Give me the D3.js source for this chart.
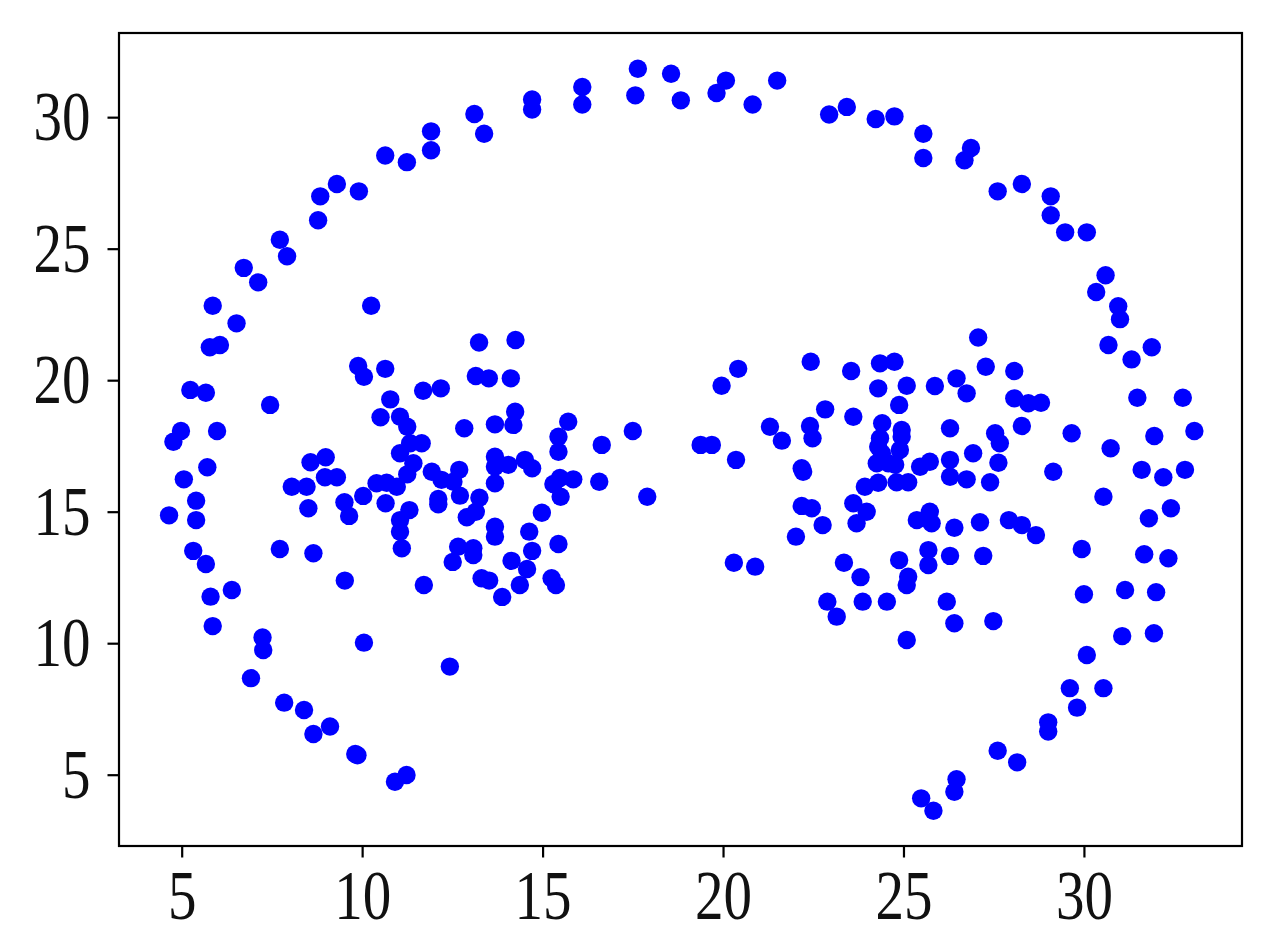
<!DOCTYPE html>
<html>
<head>
<meta charset="utf-8">
<script src="https://cdn.jsdelivr.net/npm/d3@7"></script>
<style>
  html, body { margin: 0; padding: 0; background: #fff; }
  svg { display: block; }
</style>
</head>
<body>
<svg id="chart" width="1275" height="942"></svg>
<script>
// tick labels
const xTicks = [5, 10, 15, 20, 25, 30];
const yTicks = [5, 10, 15, 20, 25, 30];

// outer ring of points, [x, y]
const ringPoints = [
  [13.11, 30.12], [13.38, 29.37], [11.91, 29.46], [11.91, 28.74], [10.64, 28.54], [11.24, 28.29],
  [9.30, 27.46], [8.84, 26.99], [9.91, 27.18], [8.78, 26.08], [7.72, 25.34], [7.92, 24.71],
  [6.72, 24.27], [7.12, 23.72], [5.86, 22.83], [6.52, 22.16], [5.78, 21.25], [6.06, 21.34],
  [5.24, 19.63], [5.67, 19.52], [4.98, 18.07], [4.77, 17.66], [5.98, 18.07], [5.06, 16.23],
  [5.71, 16.69], [5.40, 15.42], [4.65, 14.86], [5.40, 14.68], [5.32, 13.51], [5.67, 13.01],
  [5.80, 11.77], [6.39, 12.02], [5.86, 10.65], [7.24, 10.22], [7.26, 9.74], [6.92, 8.67],
  [7.84, 7.74], [8.39, 7.46], [8.65, 6.55], [9.11, 6.83], [9.81, 5.79], [9.87, 5.74],
  [10.91, 4.73], [11.23, 4.99],
  [14.71, 30.67], [14.71, 30.29], [16.10, 31.15], [16.10, 30.48], [17.64, 31.84], [17.57, 30.83],
  [18.56, 31.65], [18.83, 30.64], [20.08, 31.39], [19.82, 30.92], [20.82, 30.48], [21.50, 31.39],
  [22.94, 30.10], [23.43, 30.39], [24.23, 29.93], [24.75, 30.03], [25.55, 29.37], [25.55, 28.45],
  [26.87, 28.83], [26.69, 28.36], [27.61, 27.18], [28.28, 27.46], [29.08, 26.99], [29.08, 26.27],
  [29.48, 25.62], [30.08, 25.62], [30.60, 23.99], [30.34, 23.35], [30.95, 22.81], [31.00, 22.32],
  [30.68, 21.34], [31.88, 21.25], [31.32, 20.79], [31.48, 19.33], [32.74, 19.33], [33.06, 18.07],
  [31.95, 17.88], [30.74, 17.41], [31.60, 16.59], [32.20, 16.31], [32.80, 16.59], [29.15, 16.52],
  [29.66, 17.98], [30.54, 15.57], [31.80, 14.75], [32.41, 15.13], [29.94, 13.58], [31.67, 13.38],
  [32.34, 13.23], [30.00, 11.86], [31.14, 12.02], [32.00, 11.94], [31.06, 10.27], [31.94, 10.38],
  [30.08, 9.55], [29.61, 8.29], [30.54, 8.29], [29.81, 7.55], [29.01, 6.99], [29.01, 6.64],
  [27.61, 5.91], [28.15, 5.47], [26.47, 4.83], [26.41, 4.35], [25.49, 4.10], [25.83, 3.63]
];

// left inner cluster
const leftPoints = [
  [10.25, 22.83], [13.24, 21.43], [9.89, 20.54], [10.05, 20.13], [10.64, 20.43], [13.15, 20.16],
  [13.51, 20.07], [11.69, 19.60], [12.18, 19.69], [7.45, 19.06], [10.78, 19.27], [10.51, 18.59],
  [11.05, 18.61], [11.25, 18.23], [12.83, 18.17], [13.68, 18.32], [11.33, 17.60], [11.65, 17.60],
  [11.05, 17.22], [11.42, 16.84], [11.25, 16.42], [11.93, 16.52], [12.20, 16.21], [12.69, 16.59],
  [12.53, 16.14], [13.68, 17.09], [13.68, 16.71], [13.68, 16.08], [8.57, 16.88], [8.99, 17.07],
  [8.97, 16.31], [9.30, 16.31], [8.05, 15.95], [8.46, 15.95], [10.40, 16.08], [10.68, 16.10],
  [10.96, 15.95], [10.03, 15.60], [10.65, 15.32], [8.51, 15.13], [9.51, 15.36], [9.64, 14.84],
  [12.11, 15.48], [12.11, 15.28], [12.71, 15.61], [13.25, 15.53], [11.31, 15.06], [11.05, 14.68],
  [11.05, 14.24], [12.90, 14.79], [13.15, 15.00], [13.68, 14.43], [13.68, 14.05], [11.10, 13.61],
  [7.72, 13.58], [8.65, 13.42], [12.66, 13.67], [13.08, 13.61], [13.08, 13.35], [12.51, 13.09],
  [9.52, 12.38], [11.71, 12.21], [13.31, 12.47], [13.52, 12.38], [13.88, 11.76], [10.05, 10.02],
  [12.43, 9.11], [14.25, 21.53], [14.12, 20.07], [14.24, 18.80], [14.19, 18.30], [15.71, 18.42],
  [15.44, 17.85], [15.44, 17.28], [16.64, 17.54], [17.50, 18.07], [14.05, 16.78], [14.51, 16.97],
  [14.71, 16.65], [15.30, 16.05], [15.48, 16.28], [15.85, 16.23], [15.50, 15.57], [16.57, 16.14],
  [17.90, 15.57], [14.98, 14.96], [14.63, 14.24], [15.44, 13.77], [14.71, 13.51], [14.14, 13.13],
  [14.57, 12.82], [14.37, 12.21], [15.25, 12.47], [15.37, 12.21]
];

// points between the two clusters
const middlePoints = [
  [19.38, 17.54], [19.69, 17.54], [20.42, 20.43], [19.96, 19.79], [20.36, 16.97], [20.30, 13.06],
  [20.89, 12.91]
];

// right inner cluster
const rightPoints = [
  [22.43, 20.70], [23.55, 20.35], [21.30, 18.23], [21.63, 17.70], [22.41, 18.26], [22.48, 17.79],
  [22.83, 18.89], [23.61, 18.61], [22.18, 16.65], [22.22, 16.52], [23.93, 15.95], [23.61, 15.32],
  [23.98, 15.00], [23.70, 14.56], [22.18, 15.22], [22.46, 15.13], [22.76, 14.49], [22.02, 14.05],
  [23.35, 13.06], [27.07, 21.62], [24.35, 20.64], [24.75, 20.70], [27.28, 20.51], [28.07, 20.35],
  [24.30, 19.69], [25.09, 19.79], [25.87, 19.78], [26.47, 20.07], [26.75, 19.50], [28.07, 19.31],
  [28.46, 19.12], [28.81, 19.14], [24.88, 19.06], [24.41, 18.36], [24.35, 17.79], [24.95, 18.11],
  [24.95, 17.85], [24.90, 17.35], [26.29, 18.17], [27.54, 17.98], [27.67, 17.60], [28.28, 18.26],
  [24.30, 17.47], [24.40, 17.22], [24.26, 16.84], [24.58, 16.84], [24.77, 16.78], [26.93, 17.22],
  [27.63, 16.86], [25.46, 16.71], [25.73, 16.90], [26.29, 16.97], [26.29, 16.33], [26.75, 16.23],
  [27.40, 16.12], [24.30, 16.10], [24.81, 16.12], [25.13, 16.12], [25.37, 14.68], [25.73, 15.00],
  [25.78, 14.56], [26.41, 14.39], [27.12, 14.60], [27.92, 14.68], [28.28, 14.49], [28.67, 14.11],
  [24.88, 13.16], [25.69, 13.54], [25.69, 12.97], [26.29, 13.32], [27.21, 13.32], [23.81, 12.51],
  [25.13, 12.53], [25.09, 12.21], [22.89, 11.58], [23.15, 11.01], [23.87, 11.58], [24.54, 11.58],
  [26.20, 11.58], [26.41, 10.76], [27.49, 10.84], [25.09, 10.12]
];

const allPoints = ringPoints.concat(leftPoints, middlePoints, rightPoints);

const width = 1275;
const height = 942;
const plot = { left: 119, right: 1242, top: 33, bottom: 846 };

const svg = d3.select('#chart');

svg.append('rect')
  .attr('width', width)
  .attr('height', height)
  .attr('fill', '#fff');

const x = d3.scaleLinear()
  .domain([3.263, 34.38])
  .range([plot.left, plot.right]);

const y = d3.scaleLinear()
  .domain([2.289, 33.2])
  .range([plot.bottom, plot.top]);

// dots
svg.append('g')
  .selectAll('circle')
  .data(allPoints)
  .enter()
  .append('circle')
  .attr('cx', function (d) { return x(d[0]); })
  .attr('cy', function (d) { return y(d[1]); })
  .attr('r', 9.2)
  .attr('fill', '#0000ff');

function styleAxis(g) {
  g.select('.domain').remove();
  g.selectAll('.tick line')
    .attr('stroke', '#000')
    .attr('stroke-width', 2.2);
  g.selectAll('.tick text')
    .attr('fill', '#111')
    .attr('font-family', '"Liberation Serif", "DejaVu Serif", serif')
    .attr('font-size', 70)
    .attr('lengthAdjust', 'spacingAndGlyphs')
    .attr('textLength', function (d) { return String(d).length * 28.5; });
}

svg.append('g')
  .attr('transform', 'translate(0,' + plot.bottom + ')')
  .call(d3.axisBottom(x).tickValues(xTicks).tickSize(11.5).tickPadding(11.5))
  .call(styleAxis);

svg.append('g')
  .attr('transform', 'translate(' + plot.left + ',0)')
  .call(d3.axisLeft(y).tickValues(yTicks).tickSize(11.5).tickPadding(17))
  .call(styleAxis);

// frame
svg.append('rect')
  .attr('x', plot.left)
  .attr('y', plot.top)
  .attr('width', plot.right - plot.left)
  .attr('height', plot.bottom - plot.top)
  .attr('fill', 'none')
  .attr('stroke', '#000')
  .attr('stroke-width', 2.2);
</script>
</body>
</html>
